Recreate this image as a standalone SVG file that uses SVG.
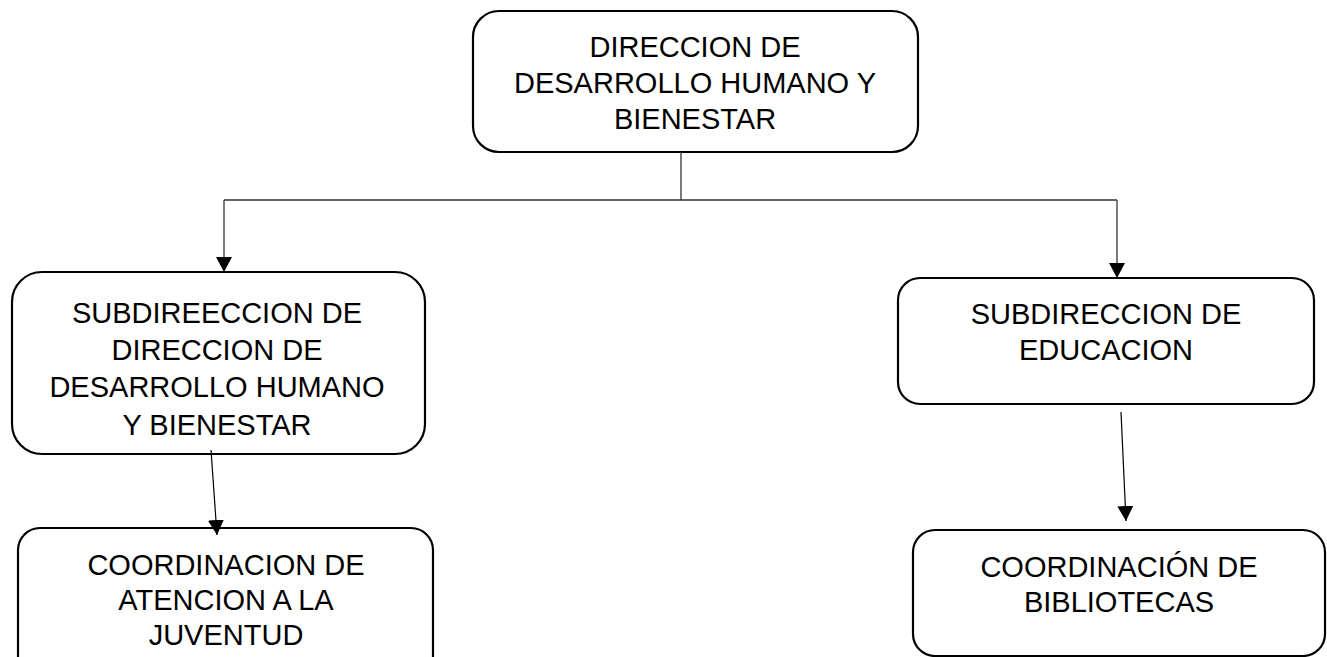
<svg xmlns="http://www.w3.org/2000/svg" width="1327" height="657" viewBox="0 0 1327 657">
<style>
.box{fill:#fff;stroke:#000;stroke-width:2.2}
.t{font-family:"Liberation Sans",Arial,sans-serif;font-size:29px;fill:#000;text-anchor:middle}
.c{fill:none;stroke:#333;stroke-width:1.3}
.a{fill:none;stroke:#000;stroke-width:1.2}
</style>
<defs>
<marker id="arr" markerUnits="userSpaceOnUse" markerWidth="17" markerHeight="17" viewBox="0 0 17 17" refX="15" refY="8.5" orient="auto">
<path d="M0,0.5 L15,8.5 L0,16.5 Z" fill="#000"/>
</marker>
</defs>
<rect width="1327" height="657" fill="#fff"/>
<g id="n-direccion">
<rect class="box" x="473" y="11" width="445" height="141" rx="26"/>
<text class="t" x="695" y="57">DIRECCION DE</text>
<text class="t" x="695" y="93">DESARROLLO HUMANO Y</text>
<text class="t" x="695" y="129">BIENESTAR</text>
</g>
<g id="n-subdir-dh">
<rect class="box" x="12" y="272" width="413" height="182" rx="30"/>
<text class="t" x="217" y="323">SUBDIREECCION DE</text>
<text class="t" x="217" y="360">DIRECCION DE</text>
<text class="t" x="217" y="397">DESARROLLO HUMANO</text>
<text class="t" x="217" y="435">Y BIENESTAR</text>
</g>
<g id="n-subdir-edu">
<rect class="box" x="898" y="278" width="416" height="126" rx="22"/>
<text class="t" x="1106" y="324">SUBDIRECCION DE</text>
<text class="t" x="1106" y="360">EDUCACION</text>
</g>
<g id="n-coord-juv">
<rect class="box" x="18" y="528" width="415" height="150" rx="22"/>
<text class="t" x="226" y="575">COORDINACION DE</text>
<text class="t" x="226" y="610">ATENCION A LA</text>
<text class="t" x="226" y="645">JUVENTUD</text>
</g>
<g id="n-coord-bib">
<rect class="box" x="913" y="530" width="412" height="126" rx="22"/>
<text class="t" x="1119" y="577">COORDINACIÓN DE</text>
<text class="t" x="1119" y="612">BIBLIOTECAS</text>
</g>
<g id="connectors">
<polyline class="c" points="681,152 681,200"/>
<polyline class="c" points="224,200 1117,200"/>
<line class="c" x1="224" y1="200" x2="224" y2="272" marker-end="url(#arr)"/>
<line class="c" x1="1117" y1="200" x2="1117" y2="278" marker-end="url(#arr)"/>
<line class="a" x1="211" y1="450" x2="217" y2="535" marker-end="url(#arr)"/>
<line class="a" x1="1121" y1="412" x2="1126" y2="521" marker-end="url(#arr)"/>
</g>
</svg>
